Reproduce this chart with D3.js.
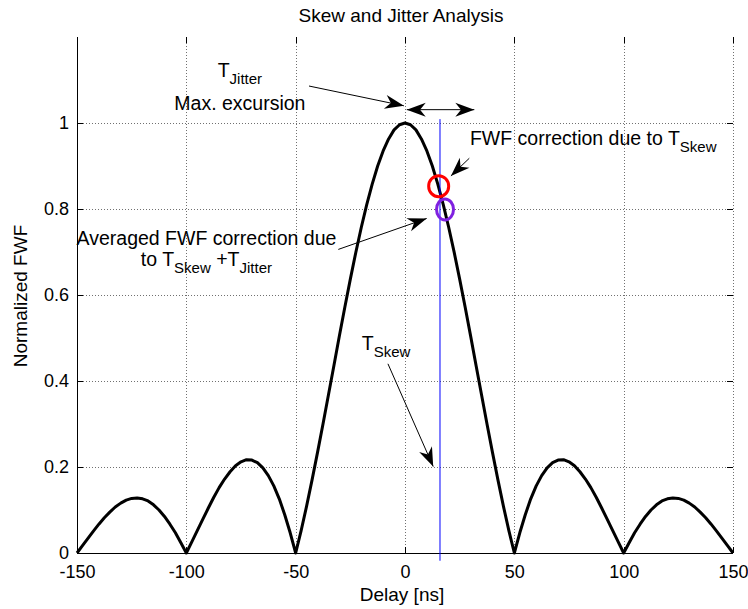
<!DOCTYPE html>
<html>
<head>
<meta charset="utf-8">
<script src="https://cdn.jsdelivr.net/npm/d3@7/dist/d3.min.js"></script>
<style>
  html, body { margin: 0; padding: 0; background: #fff; }
  text { font-family: "Liberation Sans", Arial, Helvetica, sans-serif; fill: #000; }
</style>
</head>
<body>
<div id="chart"></div>
<script>
// delay axis samples (ns) and normalized FWF
var delayNs = [
  -150, -147.5, -145, -142.5, -140, -137.5, -135, -132.5, -130, -127.5,
  -125, -122.5, -120, -117.5, -115, -112.5, -110, -107.5, -105, -102.5,
  -100, -97.5, -95, -92.5, -90, -87.5, -85, -82.5, -80, -77.5,
  -75, -72.5, -70, -67.5, -65, -62.5, -60, -57.5, -55, -52.5,
  -50, -47.5, -45, -42.5, -40, -37.5, -35, -32.5, -30, -27.5,
  -25, -22.5, -20, -17.5, -15, -12.5, -10, -7.5, -5, -2.5,
  0,
  2.5, 5, 7.5, 10, 12.5, 15, 17.5, 20, 22.5, 25,
  27.5, 30, 32.5, 35, 37.5, 40, 42.5, 45, 47.5, 50,
  52.5, 55, 57.5, 60, 62.5, 65, 67.5, 70, 72.5, 75,
  77.5, 80, 82.5, 85, 87.5, 90, 92.5, 95, 97.5, 100,
  102.5, 105, 107.5, 110, 112.5, 115, 117.5, 120, 122.5, 125,
  127.5, 130, 132.5, 135, 137.5, 140, 142.5, 145, 147.5, 150
];
var fwf = [
  0, 0.017, 0.034, 0.051, 0.067, 0.082, 0.095, 0.107, 0.116, 0.123,
  0.127, 0.128, 0.126, 0.121, 0.112, 0.100, 0.085, 0.067, 0.047, 0.024,
  0, 0.026, 0.052, 0.078, 0.104, 0.129, 0.152, 0.172, 0.189, 0.203,
  0.212, 0.217, 0.216, 0.210, 0.198, 0.180, 0.156, 0.126, 0.089, 0.047,
  0, 0.052, 0.109, 0.170, 0.234, 0.300, 0.368, 0.436, 0.505, 0.572,
  0.637, 0.699, 0.757, 0.810, 0.858, 0.900, 0.935, 0.963, 0.984, 0.996,
  1.000,
  0.996, 0.984, 0.963, 0.935, 0.900, 0.858, 0.810, 0.757, 0.699, 0.637,
  0.572, 0.505, 0.436, 0.368, 0.300, 0.234, 0.170, 0.109, 0.052, 0,
  0.047, 0.089, 0.126, 0.156, 0.180, 0.198, 0.210, 0.216, 0.217, 0.212,
  0.203, 0.189, 0.172, 0.152, 0.129, 0.104, 0.078, 0.052, 0.026, 0,
  0.024, 0.047, 0.067, 0.085, 0.100, 0.112, 0.121, 0.126, 0.128, 0.127,
  0.123, 0.116, 0.107, 0.095, 0.082, 0.067, 0.051, 0.034, 0.017, 0
];

var xTicks = [-150, -100, -50, 0, 50, 100, 150];
var yTicks = [0, 0.2, 0.4, 0.6, 0.8, 1];

var skewDelay = 16;             // T_Skew marker (ns)
var skewPoint = [15.4, 0.853];  // FWF correction due to T_Skew
var avgPoint = [18.3, 0.799];   // averaged correction

(function () {
  var width = 748, height = 609;
  var pLeft = 77, pRight = 733, pTop = 37, pBottom = 553;

  var svg = d3.select('#chart')
    .append('svg')
    .attr('width', width)
    .attr('height', height);

  var x = d3.scaleLinear().domain([-150, 150]).range([pLeft, pRight]);
  var y = d3.scaleLinear().domain([0, 1.2]).range([pBottom, pTop]);

  // grid (dotted)
  var grid = svg.append('g').attr('class', 'grid')
    .attr('stroke', '#707070')
    .attr('stroke-width', 1)
    .attr('stroke-dasharray', '1,2');

  grid.selectAll('.vgrid')
    .data(xTicks.slice(1))
    .enter()
    .append('line')
    .attr('x1', function (d) { return Math.round(x(d)) + 0.5; })
    .attr('x2', function (d) { return Math.round(x(d)) + 0.5; })
    .attr('y1', pTop)
    .attr('y2', pBottom);

  grid.selectAll('.hgrid')
    .data(yTicks.slice(1))
    .enter()
    .append('line')
    .attr('y1', function (d) { return Math.round(y(d)) + 0.5; })
    .attr('y2', function (d) { return Math.round(y(d)) + 0.5; })
    .attr('x1', pLeft)
    .attr('x2', pRight);

  // short tick marks on all four edges, pointing inwards
  var tickLen = 6;
  var ticks = svg.append('g').attr('stroke', '#000').attr('stroke-width', 1);
  xTicks.forEach(function (d) {
    var px = Math.round(x(d)) + 0.5;
    ticks.append('line').attr('x1', px).attr('x2', px).attr('y1', pBottom).attr('y2', pBottom - tickLen);
    ticks.append('line').attr('x1', px).attr('x2', px).attr('y1', pTop).attr('y2', pTop + tickLen);
  });
  yTicks.forEach(function (d) {
    var py = Math.round(y(d)) + 0.5;
    ticks.append('line').attr('y1', py).attr('y2', py).attr('x1', pLeft).attr('x2', pLeft + tickLen);
    ticks.append('line').attr('y1', py).attr('y2', py).attr('x1', pRight).attr('x2', pRight - tickLen);
  });

  // tick labels through d3 axes
  var fmt = function (d) { return String(d); };
  var xAxis = svg.append('g')
    .attr('transform', 'translate(0,' + pBottom + ')')
    .call(d3.axisBottom(x).tickValues(xTicks).tickSize(0).tickPadding(12).tickFormat(fmt));
  var yAxis = svg.append('g')
    .attr('transform', 'translate(' + pLeft + ',0)')
    .call(d3.axisLeft(y).tickValues(yTicks).tickSize(0).tickPadding(8).tickFormat(fmt));
  [xAxis, yAxis].forEach(function (a) {
    a.select('.domain').remove();
    a.selectAll('text')
      .attr('font-family', '"Liberation Sans", Arial, sans-serif')
      .attr('font-size', 18)
      .attr('fill', '#000');
  });

  // left and bottom axis lines
  svg.append('line')
    .attr('x1', pLeft + 0.5).attr('x2', pLeft + 0.5)
    .attr('y1', pTop).attr('y2', pBottom + 0.5)
    .attr('stroke', '#000');
  svg.append('line')
    .attr('x1', pLeft).attr('x2', pRight)
    .attr('y1', pBottom + 0.5).attr('y2', pBottom + 0.5)
    .attr('stroke', '#000');

  // curve
  var line = d3.line()
    .x(function (d, i) { return x(delayNs[i]); })
    .y(function (d) { return y(d); });

  svg.append('path')
    .datum(fwf)
    .attr('d', line)
    .attr('fill', 'none')
    .attr('stroke', '#000')
    .attr('stroke-width', 3)
    .attr('stroke-linejoin', 'round');

  // skew marker line
  svg.append('line')
    .attr('x1', x(skewDelay)).attr('x2', x(skewDelay))
    .attr('y1', y(1.009)).attr('y2', y(-0.018))
    .attr('stroke', '#0000ff')
    .attr('stroke-width', 1);

  // circles
  svg.append('ellipse')
    .attr('cx', x(skewPoint[0])).attr('cy', y(skewPoint[1]))
    .attr('rx', 10).attr('ry', 10.5)
    .attr('fill', 'none').attr('stroke', '#ff0000').attr('stroke-width', 3);
  svg.append('ellipse')
    .attr('cx', x(avgPoint[0])).attr('cy', y(avgPoint[1]))
    .attr('rx', 8.5).attr('ry', 10.5)
    .attr('fill', 'none').attr('stroke', '#7f20e0').attr('stroke-width', 3);

  // arrows
  var headL = 19, headW = 14;
  function arrowHead(g, tx, ty, ang) {
    var c = Math.cos(ang), s = Math.sin(ang);
    function p(u, v) { return [tx + u * c - v * s, ty + u * s + v * c]; }
    var pts = [p(0, 0), p(-headL, -headW / 2), p(-headL * 0.7, 0), p(-headL, headW / 2)];
    g.append('path')
      .attr('d', 'M' + pts.map(function (q) { return q[0] + ',' + q[1]; }).join('L') + 'Z')
      .attr('fill', '#000');
  }
  function arrow(x1, y1, x2, y2, both) {
    var g = svg.append('g');
    var ax = x(x1), ay = y(y1), bx = x(x2), by = y(y2);
    g.append('line')
      .attr('x1', ax).attr('y1', ay).attr('x2', bx).attr('y2', by)
      .attr('stroke', '#000').attr('stroke-width', 1);
    var ang = Math.atan2(by - ay, bx - ax);
    arrowHead(g, bx, by, ang);
    if (both) arrowHead(g, ax, ay, ang + Math.PI);
  }

  arrow(-43.9, 1.086, -0.5, 1.040);
  arrow(0.8, 1.031, 31.7, 1.031, true);
  arrow(29.4, 0.918, 21.0, 0.877);
  arrow(-30.5, 0.706, 9.9, 0.778);
  arrow(-7.8, 0.440, 12.9, 0.201);

  // texts with subscripts
  function richText(px, py, parts, anchor) {
    var t = svg.append('text')
      .attr('x', x(px)).attr('y', y(py))
      .attr('font-size', 19.5)
      .attr('text-anchor', anchor || 'start');
    var down = false;
    parts.forEach(function (p) {
      var sp = t.append('tspan').text(p[0]);
      if (p[1] === 'sub') {
        sp.attr('font-size', 15).attr('dy', down ? 0 : 7);
        down = true;
      } else if (down) {
        sp.attr('dy', -7);
        down = false;
      }
    });
    return t;
  }

  richText(-75.5, 1.108, [['T'], ['Jitter', 'sub']], 'middle');
  richText(-75.5, 1.030, [['Max. excursion']], 'middle');
  richText(29.7, 0.949, [['FWF correction due to T'], ['Skew', 'sub']]);
  richText(-90.8, 0.716, [['Averaged FWF correction due']], 'middle');
  richText(-90.8, 0.667, [['to T'], ['Skew', 'sub'], [' +T'], ['Jitter', 'sub']], 'middle');
  richText(-19.8, 0.472, [['T'], ['Skew', 'sub']]);

  // title and axis titles
  svg.append('text')
    .attr('x', 401).attr('y', 22)
    .attr('text-anchor', 'middle')
    .attr('font-size', 19)
    .text('Skew and Jitter Analysis');
  svg.append('text')
    .attr('x', 402).attr('y', 601)
    .attr('text-anchor', 'middle')
    .attr('font-size', 19)
    .text('Delay [ns]');
  svg.append('text')
    .attr('transform', 'translate(27,296) rotate(-90)')
    .attr('text-anchor', 'middle')
    .attr('font-size', 19)
    .text('Normalized FWF');
})();
</script>
</body>
</html>
